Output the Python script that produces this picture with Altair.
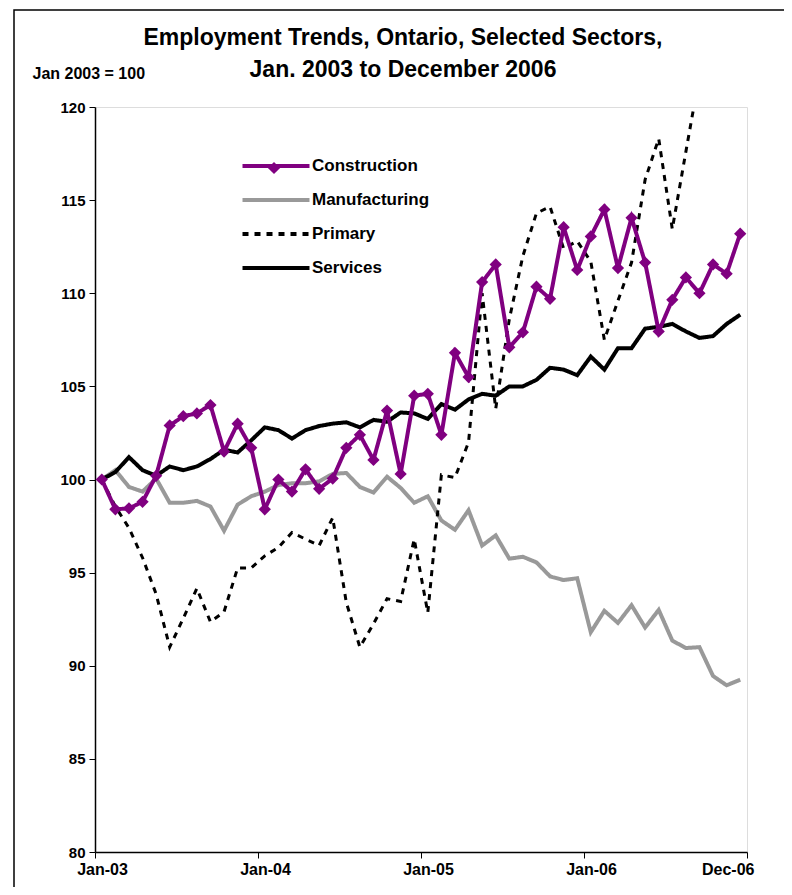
import altair as alt
import pandas as pd

# ---------------- data ----------------
series_names = ["Construction", "Manufacturing", "Primary", "Services"]
tick_labels = ["Jan-03", "Jan-04", "Jan-05", "Jan-06", "Dec-06"]
y_ticks = [80, 85, 90, 95, 100, 105, 110, 115, 120]

construction = [100.0, 98.4, 98.45, 98.8, 100.2, 102.9, 103.4, 103.55, 104.0, 101.5,
                103.0, 101.7, 98.4, 100.0, 99.35, 100.55, 99.5, 100.05, 101.7, 102.4,
                101.05, 103.7, 100.3, 104.5, 104.6, 102.4, 106.8, 105.5, 110.6, 111.55,
                107.1, 107.9, 110.35, 109.7, 113.55, 111.25, 113.05, 114.5, 111.35, 114.05,
                111.65, 107.95, 109.65, 110.85, 110.0, 111.55, 111.05, 113.2]
manufacturing = [100.0, 100.5, 99.6, 99.35, 100.05, 98.75, 98.75, 98.85, 98.55, 97.25,
                 98.65, 99.1, 99.35, 99.7, 99.8, 99.8, 99.9, 100.3, 100.35, 99.6,
                 99.3, 100.15, 99.55, 98.75, 99.1, 97.8, 97.3, 98.35, 96.45, 97.0,
                 95.75, 95.85, 95.55, 94.8, 94.6, 94.7, 91.8, 92.95, 92.3, 93.25,
                 92.05, 93.0, 91.35, 90.95, 91.0, 89.45, 88.95, 89.25]
primary = [100.0, 98.55, 97.4, 95.8, 93.85, 91.0, 92.55, 94.15, 92.35, 92.9,
           95.25, 95.25, 95.9, 96.35, 97.15, 96.8, 96.45, 97.95, 93.4, 91.0,
           92.25, 93.6, 93.45, 96.8, 92.85, 100.25, 100.1, 102.0, 110.0, 103.8,
           108.6, 112.0, 114.3, 114.65, 112.4, 112.8, 111.7, 107.5, 109.6, 111.65,
           116.1, 118.3, 113.45, 117.6, 121.7]
services = [100.0, 100.4, 101.2, 100.5, 100.2, 100.7, 100.5, 100.7, 101.1, 101.6,
            101.45, 102.1, 102.8, 102.65, 102.2, 102.65, 102.87, 103.0, 103.07, 102.8,
            103.2, 103.1, 103.6, 103.55, 103.25, 104.05, 103.75, 104.3, 104.6, 104.5,
            105.0, 105.0, 105.35, 106.0, 105.9, 105.6, 106.6, 105.9, 107.05, 107.05,
            108.1, 108.2, 108.35, 107.95, 107.6, 107.7, 108.35, 108.85]

rows = []
for name, vals in zip(series_names, [construction, manufacturing, primary, services]):
    for i, v in enumerate(vals):
        rows.append({"i": i, "series": name, "v": v, "mk": name})
df = pd.DataFrame(rows)

# ---------------- style ----------------
FONT = "Liberation Sans"
PURPLE = "#800080"
colors = [PURPLE, "#999999", "#000000", "#000000"]
dashes = [[1, 0], [1, 0], [6, 6], [1, 0]]

tick_vals = [-0.5, 11.5, 23.5, 35.5, 47.5]
label_expr = "[" + ",".join(f"'{t}'" for t in tick_labels) + "][round((datum.value + 0.5) / 12)]"

x_enc = alt.X(
    "i:Q",
    scale=alt.Scale(domain=[-0.5, 47.5], nice=False, zero=False),
    axis=alt.Axis(values=tick_vals, labelExpr=label_expr, title=None, grid=False,
                  tickSize=6, tickColor="black", domainColor="black", domainWidth=1.5,
                  labelFont=FONT, labelFontSize=16, labelFontWeight="bold", labelColor="black",
                  labelOffset=7, labelFlush=False, labelOverlap=False, labelPadding=3,
                  labelAlign={"condition": {"test": "datum.value > 40", "value": "right"},
                              "value": "center"}),
)
y_enc = alt.Y(
    "v:Q",
    scale=alt.Scale(domain=[80, 120], nice=False, zero=False),
    axis=alt.Axis(values=y_ticks, grid=False, tickSize=6, tickColor="black",
                  domainColor="black", domainWidth=1.5,
                  labelFont=FONT, labelFontSize=15, labelFontWeight="bold", labelColor="black",
                  labelPadding=4,
                  title="Jan 2003 = 100", titleAngle=0, titleAlign="left", titleBaseline="middle",
                  titleX=-63, titleY=-34, titleFont=FONT, titleFontSize=16,
                  titleFontWeight="bold", titleColor="black"),
)

# wide horizontal line symbol (custom path) so rows stay compact
line_legend = alt.Legend(orient="none", legendX=162, legendY=40, title=None,
                         symbolType="M-2,0L2,0", symbolSize=1122, symbolStrokeWidth=4,
                         labelFont=FONT, labelFontSize=17, labelFontWeight="bold",
                         labelColor="black", labelOffset=17, rowPadding=7, padding=0)
color_enc = alt.Color("series:N", scale=alt.Scale(domain=series_names, range=colors),
                      legend=line_legend)
dash_enc = alt.StrokeDash("series:N", scale=alt.Scale(domain=series_names, range=dashes),
                          legend=line_legend)

base = alt.Chart(df)


def line_layer(name, width):
    return base.transform_filter(f"datum.series == '{name}'").mark_line(
        strokeWidth=width, clip=True, strokeCap="butt"
    ).encode(x=x_enc, y=y_enc, color=color_enc, strokeDash=dash_enc)


points = base.transform_filter("datum.series == 'Construction'").mark_point(
    filled=True, size=150, opacity=1, color=PURPLE, clip=True
).encode(
    x=x_enc, y=y_enc,
    shape=alt.Shape("mk:N", scale=alt.Scale(domain=["Construction"], range=["diamond"]),
                    legend=alt.Legend(orient="none", legendX=172.5, legendY=54.5, title=None,
                                      symbolSize=150, symbolFillColor=PURPLE,
                                      symbolStrokeColor=PURPLE, symbolStrokeWidth=0,
                                      labelExpr="''", padding=0)),
)

frame = alt.Chart(pd.DataFrame({"a": [0]})).mark_rect(
    fillOpacity=0, stroke="black", strokeWidth=1.5, clip=False
).encode(x=alt.value(-81), x2=alt.value(698), y=alt.value(-97), y2=alt.value(820))

chart = alt.layer(
    frame,
    line_layer("Manufacturing", 4),
    line_layer("Primary", 3),
    line_layer("Services", 4),
    line_layer("Construction", 4),
    points,
).properties(
    width=652, height=745,
    autosize=alt.AutoSizeParams(type="none"),
    padding={"left": 87, "top": 99, "right": 37, "bottom": 35},
    title=alt.Title(["Employment Trends, Ontario, Selected Sectors,", "Jan. 2003 to December 2006"],
                    font=FONT, fontSize=23, fontWeight="bold", color="black",
                    anchor="middle", dx=-18, dy=73, offset=0, lineHeight=32),
).configure_view(strokeWidth=0).configure(background="white")

chart.save("out.html", embed_options={"renderer": "svg", "actions": False})
